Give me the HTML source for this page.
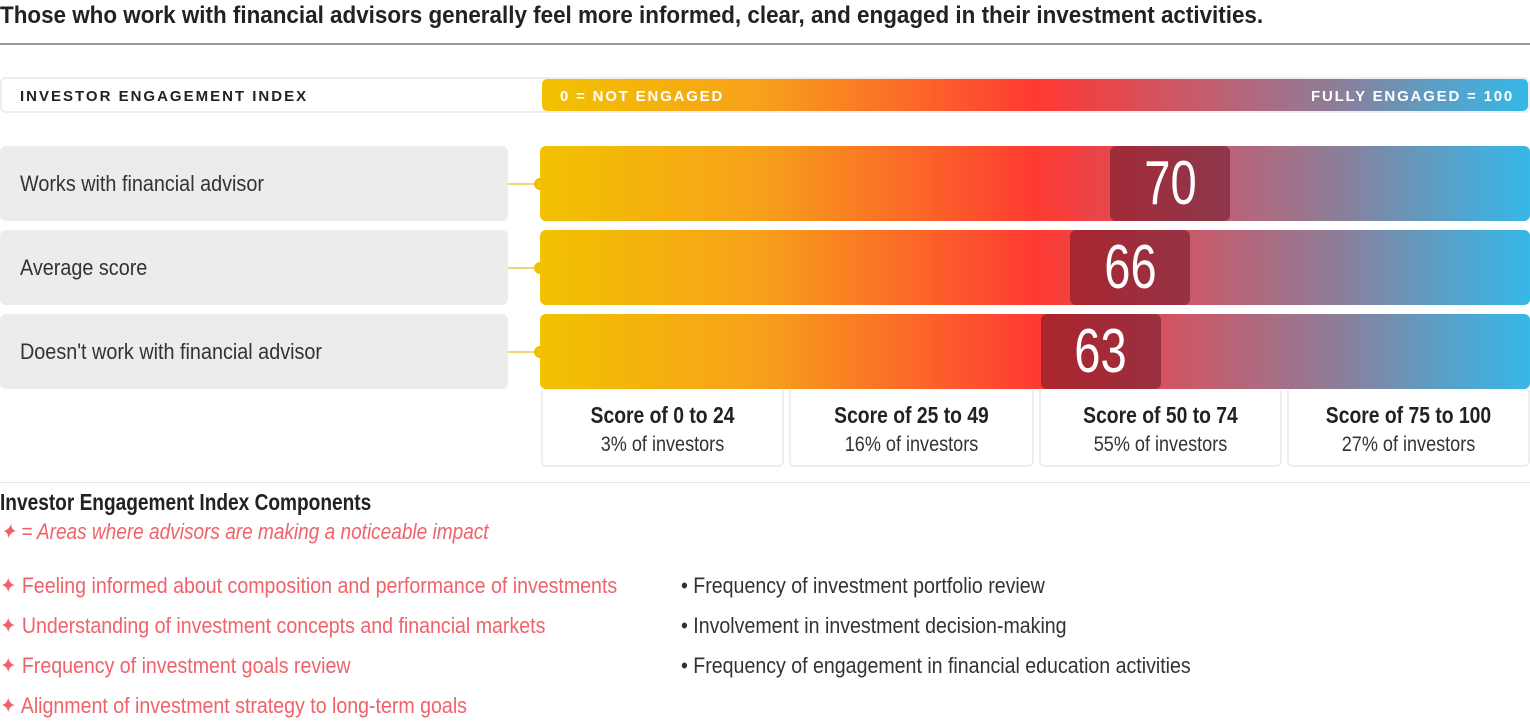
<!DOCTYPE html>
<html><head><meta charset="utf-8">
<style>
*{box-sizing:border-box;margin:0;padding:0}
body{width:1530px;height:722px;background:#fff;font-family:"Liberation Sans Narrow","Liberation Sans",sans-serif;color:#222;position:relative;overflow:hidden}
.abs{position:absolute}
.n{display:inline-block;white-space:nowrap;transform-origin:left center}
.grad{background:linear-gradient(90deg,#f2c200 0%,#f7a11a 22%,#fb6b28 37%,#ff3a33 50%,#e4484d 58%,#b96478 70%,#8f7c96 80%,#5f9cc2 90%,#36b8e8 100%)}
.lab{left:0;width:508px;height:75px;background:#ececec;border-radius:6px;font-size:22px;color:#333;padding-left:20px;display:flex;align-items:center}
.bar{left:540px;width:990px;height:75px;border-radius:6px}
.val{height:75px;width:120px;border-radius:6px;background:rgba(105,20,40,0.55);color:#fff;font-size:62px;text-align:center;line-height:75px}
.val span{display:inline-block;transform:scaleX(0.76)}
.score{top:390px;height:77px;border:2px solid #eee;border-top:none;border-radius:0 0 6px 6px;text-align:center;padding-top:12px}
.score b{display:block;font-size:23px;color:#222;transform:scaleX(0.84)}
.score span{display:block;font-size:21px;color:#333;margin-top:4px;transform:scaleX(0.86)}
.red{color:#f0626a}
.li{font-size:22px}
.li .n{transform:scaleX(0.89)}
</style></head><body>
<div class="abs" style="left:0;top:2px;font-size:24px;font-weight:bold;color:#222"><span class="n" style="transform:scaleX(0.934)">Those who work with financial advisors generally feel more informed, clear, and engaged in their investment activities.</span></div>
<div class="abs" style="left:0;top:43px;width:1530px;height:2px;background:#999"></div>

<div class="abs" style="left:0;top:77px;width:1530px;height:36px;border:2px solid #eee;border-radius:6px"></div>
<div class="abs" style="left:20px;top:88px;font-size:15px;font-weight:bold;letter-spacing:2px;color:#222">INVESTOR ENGAGEMENT INDEX</div>
<div class="abs grad" style="left:542px;top:79px;width:986px;height:32px;border-radius:5px"></div>
<div class="abs" style="left:560px;top:88px;font-size:15px;font-weight:bold;letter-spacing:1.8px;color:#fff">0 = NOT ENGAGED</div>
<div class="abs" style="right:16px;top:88px;font-size:15px;font-weight:bold;letter-spacing:1.8px;color:#fff">FULLY ENGAGED = 100</div>

<div id="rows"></div>

<div class="abs score" style="left:541px;width:243px"><b>Score of 0 to 24</b><span>3% of investors</span></div>
<div class="abs score" style="left:789px;width:245px"><b>Score of 25 to 49</b><span>16% of investors</span></div>
<div class="abs score" style="left:1039px;width:243px"><b>Score of 50 to 74</b><span>55% of investors</span></div>
<div class="abs score" style="left:1287px;width:243px"><b>Score of 75 to 100</b><span>27% of investors</span></div>

<div class="abs" style="left:0;top:482px;width:1530px;height:1px;background:#e6e6e6"></div>
<div class="abs" style="left:0;top:489px;font-size:23px;font-weight:bold;color:#222"><span class="n" style="transform:scaleX(0.83)">Investor Engagement Index Components</span></div>
<div class="abs red" style="left:0;top:519px;font-size:22px;font-style:italic"><span class="n" style="transform:scaleX(0.865)">✦ = Areas where advisors are making a noticeable impact</span></div>
<div class="abs red li" style="left:0;top:573px"><span class="n">✦ Feeling informed about composition and performance of investments</span></div>
<div class="abs red li" style="left:0;top:613px"><span class="n">✦ Understanding of investment concepts and financial markets</span></div>
<div class="abs red li" style="left:0;top:653px"><span class="n">✦ Frequency of investment goals review</span></div>
<div class="abs red li" style="left:0;top:693px"><span class="n">✦ Alignment of investment strategy to long-term goals</span></div>
<div class="abs li" style="left:681px;top:573px;color:#333"><span class="n">• Frequency of investment portfolio review</span></div>
<div class="abs li" style="left:681px;top:613px;color:#333"><span class="n">• Involvement in investment decision-making</span></div>
<div class="abs li" style="left:681px;top:653px;color:#333"><span class="n">• Frequency of engagement in financial education activities</span></div>

<script>
const categories = ["Works with financial advisor","Average score","Doesn't work with financial advisor"];
const scores = [70, 66, 63];
const x0 = 540, xw = 990, top0 = 146, step = 84;
function xScale(v){ return x0 + v/100*xw; }
const rows = document.getElementById('rows');
categories.forEach(function(c,i){
  const y = top0 + i*step;
  const lab = document.createElement('div');
  lab.className='abs lab'; lab.style.top=y+'px';
  lab.innerHTML='<span class="n" style="transform:scaleX(0.9)"></span>';
  lab.firstChild.textContent=c;
  
  
  rows.appendChild(lab);
  const ln = document.createElement('div');
  ln.className='abs'; ln.style.cssText='left:508px;top:'+(y+37)+'px;width:32px;height:2px;background:#f2d37a';
  
  
  rows.appendChild(ln);
  const dt = document.createElement('div');
  dt.className='abs'; dt.style.cssText='left:534px;top:'+(y+32)+'px;width:12px;height:12px;border-radius:50%;background:#f2c200';
  
  
  rows.appendChild(dt);
  const b = document.createElement('div');
  b.className='abs bar grad'; b.style.top=y+'px';
  
  
  rows.appendChild(b);
  const v = document.createElement('div');
  v.className='abs val'; v.style.top=y+'px'; v.style.left=(xScale(scores[i])-123)+'px';
  v.innerHTML='<span></span>';
  v.firstChild.textContent=scores[i];
  
  
  rows.appendChild(v);
});
</script>
</body></html>
